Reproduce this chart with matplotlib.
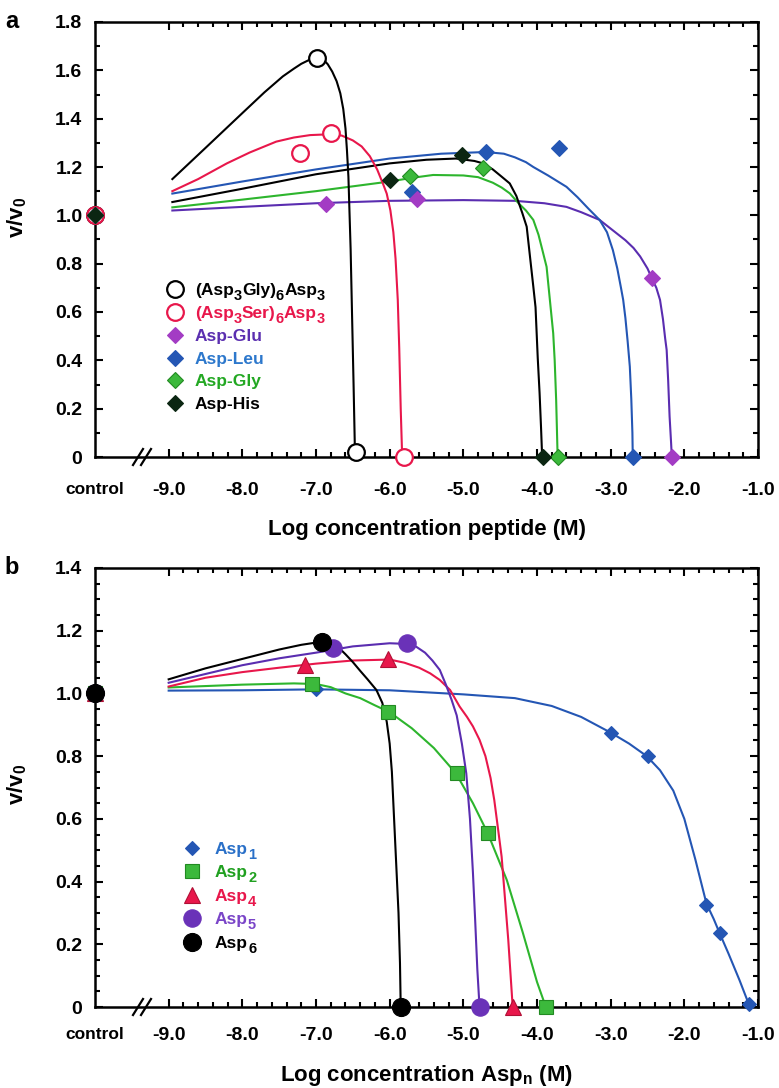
import numpy as np
import matplotlib
matplotlib.use('Agg')
import matplotlib.pyplot as plt
from matplotlib.ticker import FixedLocator

plt.rcParams['font.family'] = ['Liberation Sans', 'DejaVu Sans']
plt.rcParams['font.weight'] = 'bold'
plt.rcParams['mathtext.fontset'] = 'custom'
plt.rcParams['mathtext.rm'] = 'Liberation Sans:bold'
plt.rcParams['mathtext.bf'] = 'Liberation Sans:bold'
plt.rcParams['mathtext.it'] = 'Liberation Sans:bold'
plt.rcParams['mathtext.default'] = 'bf'

# ---------------- common axis data ----------------
control_x = -10.0
control_y = 1.0
x_major = [-9.0, -8.0, -7.0, -6.0, -5.0, -4.0, -3.0, -2.0, -1.0]
x_major_labels = ['-9.0', '-8.0', '-7.0', '-6.0', '-5.0', '-4.0', '-3.0', '-2.0', '-1.0']
control_label = 'control'

# ---------------- panel a data ----------------
ya_ticks = [0, 0.2, 0.4, 0.6, 0.8, 1.0, 1.2, 1.4, 1.6, 1.8]
ya_labels = ['0', '0.2', '0.4', '0.6', '0.8', '1.0', '1.2', '1.4', '1.6', '1.8']

gly36_x = [-6.99, -6.46]
gly36_y = [1.65, 0.02]
gly36_fit_x = [-8.95, -8.5, -8.0, -7.7, -7.45, -7.3, -7.2, -7.1, -7.03, -6.96, -6.9, -6.84, -6.78,
               -6.72, -6.67, -6.63, -6.6, -6.58, -6.56, -6.55, -6.53, -6.51, -6.49, -6.47]
gly36_fit_y = [1.15, 1.279, 1.423, 1.509, 1.575, 1.607, 1.627, 1.642, 1.65, 1.654, 1.645, 1.625, 1.595,
               1.555, 1.505, 1.44, 1.36, 1.27, 1.16, 1.06, 0.86, 0.58, 0.30, 0.0]

ser36_x = [-7.22, -6.79, -5.80]
ser36_y = [1.26, 1.34, 0.0]
ser36_fit_x = [-8.95, -8.6, -8.21, -7.9, -7.54, -7.3, -7.08, -6.85, -6.65, -6.5, -6.38, -6.27, -6.17,
               -6.09, -6.04, -5.99, -5.95, -5.92, -5.89, -5.87, -5.85, -5.83]
ser36_fit_y = [1.10, 1.15, 1.215, 1.26, 1.305, 1.322, 1.332, 1.335, 1.33, 1.31, 1.285, 1.245, 1.19,
               1.13, 1.09, 1.02, 0.93, 0.82, 0.65, 0.45, 0.20, 0.0]

glu_x = [-6.86, -5.63, -2.44, -2.17]
glu_y = [1.045, 1.066, 0.739, 0.0]
glu_fit_x = [-8.95, -8.0, -7.0, -6.0, -5.0, -4.3, -3.9, -3.6, -3.4, -3.15, -2.95, -2.8, -2.69, -2.6,
             -2.5, -2.44, -2.38, -2.33, -2.29, -2.26, -2.24, -2.22, -2.20, -2.18, -2.17]
glu_fit_y = [1.02, 1.035, 1.05, 1.06, 1.063, 1.06, 1.05, 1.035, 1.013, 0.981, 0.933, 0.897, 0.865, 0.83,
             0.78, 0.739, 0.70, 0.65, 0.57, 0.49, 0.443, 0.32, 0.167, 0.06, 0.0]

leu_x = [-5.70, -4.69, -3.70, -2.70]
leu_y = [1.098, 1.263, 1.28, 0.0]
leu_fit_x = [-8.95, -8.0, -7.0, -6.0, -5.3, -4.7, -4.45, -4.3, -4.15, -4.05, -3.85, -3.6, -3.45, -3.3,
             -3.15, -3.05, -2.97, -2.91, -2.86, -2.83, -2.80, -2.77, -2.74, -2.72, -2.705, -2.70]
leu_fit_y = [1.09, 1.14, 1.19, 1.235, 1.255, 1.262, 1.255, 1.24, 1.22, 1.20, 1.165, 1.118, 1.075, 1.027,
             0.981, 0.93, 0.856, 0.78, 0.70, 0.65, 0.575, 0.48, 0.374, 0.24, 0.10, 0.0]

gly_x = [-5.73, -4.73, -3.71]
gly_y = [1.163, 1.194, 0.0]
gly_fit_x = [-8.95, -8.0, -7.0, -6.0, -5.7, -5.41, -5.0, -4.8, -4.6, -4.48, -4.37, -4.25, -4.15, -4.05,
             -3.98, -3.93, -3.87, -3.82, -3.78, -3.76, -3.74, -3.73, -3.72]
gly_fit_y = [1.033, 1.065, 1.10, 1.14, 1.155, 1.167, 1.165, 1.158, 1.135, 1.115, 1.091, 1.05, 1.02, 0.981,
             0.92, 0.86, 0.787, 0.634, 0.512, 0.40, 0.236, 0.12, 0.0]

his_x = [-6.00, -5.02, -3.92]
his_y = [1.146, 1.249, 0.0]
his_fit_x = [-8.95, -8.0, -7.0, -6.0, -5.5, -5.1, -4.85, -4.73, -4.6, -4.48, -4.37, -4.28, -4.2, -4.14,
             -4.09, -4.05, -4.02, -3.99, -3.965, -3.945, -3.93]
his_fit_y = [1.055, 1.11, 1.17, 1.215, 1.23, 1.235, 1.225, 1.215, 1.19, 1.16, 1.132, 1.08, 1.01, 0.953,
             0.815, 0.705, 0.62, 0.41, 0.265, 0.12, 0.0]

# ---------------- panel b data ----------------
yb_ticks = [0, 0.2, 0.4, 0.6, 0.8, 1.0, 1.2, 1.4]
yb_labels = ['0', '0.2', '0.4', '0.6', '0.8', '1.0', '1.2', '1.4']

asp1_x = [-7.0, -3.0, -2.5, -1.7, -1.52, -1.12]
asp1_y = [1.013, 0.875, 0.80, 0.325, 0.235, 0.01]
asp1_fit_x = [-9.0, -8.0, -7.0, -6.0, -5.0, -4.3, -3.8, -3.4, -3.0, -2.75, -2.51, -2.33, -2.15, -2.0,
              -1.85, -1.7, -1.6, -1.52, -1.4, -1.25, -1.11]
asp1_fit_y = [1.009, 1.01, 1.013, 1.01, 0.997, 0.985, 0.96, 0.925, 0.875, 0.84, 0.80, 0.755, 0.69, 0.60,
              0.47, 0.33, 0.28, 0.235, 0.17, 0.085, 0.0]

asp2_x = [-7.06, -6.02, -5.09, -4.67, -3.88]
asp2_y = [1.03, 0.94, 0.745, 0.554, 0.0]
asp2_fit_x = [-9.0, -8.0, -7.3, -7.0, -6.8, -6.6, -6.4, -6.2, -6.0, -5.7, -5.4, -5.1, -4.87, -4.67,
              -4.41, -4.19, -4.0, -3.88]
asp2_fit_y = [1.019, 1.028, 1.032, 1.03, 1.02, 1.0, 0.985, 0.962, 0.94, 0.889, 0.826, 0.745, 0.65, 0.555,
              0.405, 0.235, 0.08, 0.0]

asp4_x = [-7.15, -6.02, -4.33]
asp4_y = [1.09, 1.11, 0.0]
asp4_fit_x = [-9.0, -8.5, -8.0, -7.5, -7.0, -6.5, -6.0, -5.8, -5.6, -5.45, -5.32, -5.18, -5.05, -4.95,
              -4.87, -4.78, -4.7, -4.63, -4.58, -4.53, -4.48, -4.43, -4.39, -4.36, -4.33]
asp4_fit_y = [1.022, 1.05, 1.068, 1.082, 1.095, 1.105, 1.108, 1.098, 1.082, 1.064, 1.043, 1.011, 0.958,
              0.925, 0.895, 0.852, 0.80, 0.73, 0.66, 0.57, 0.479, 0.332, 0.214, 0.107, 0.0]

asp5_x = [-6.77, -5.77, -4.77]
asp5_y = [1.144, 1.16, 0.0]
asp5_fit_x = [-9.0, -8.5, -8.0, -7.5, -7.0, -6.5, -6.0, -5.77, -5.64, -5.52, -5.42, -5.32, -5.24, -5.16,
              -5.09, -5.02, -4.96, -4.91, -4.87, -4.84, -4.81, -4.78]
asp5_fit_y = [1.034, 1.062, 1.09, 1.112, 1.13, 1.15, 1.16, 1.158, 1.149, 1.13, 1.105, 1.075, 1.03, 0.98,
              0.93, 0.84, 0.745, 0.60, 0.43, 0.28, 0.12, 0.0]

asp6_x = [-6.92, -5.85]
asp6_y = [1.165, 0.0]
asp6_fit_x = [-9.0, -8.5, -8.0, -7.5, -7.2, -6.92, -6.8, -6.7, -6.6, -6.5, -6.4, -6.3, -6.18, -6.1,
              -6.04, -6.0, -5.97, -5.95, -5.92, -5.9, -5.88, -5.86, -5.85]
asp6_fit_y = [1.045, 1.08, 1.11, 1.14, 1.155, 1.165, 1.16, 1.148, 1.125, 1.1, 1.072, 1.045, 1.011, 0.97,
              0.91, 0.84, 0.75, 0.65, 0.50, 0.40, 0.30, 0.14, 0.0]

# ---------------- colours ----------------
RED = '#e8174b'
BLACK = '#000000'
PURPLE_LINE = '#5a2db0'
GLU_MK = '#a33cc4'
BLUE = '#2456b4'
GREEN = '#2db52d'
GREEN_MK = '#3cb93c'
GREEN_EDGE = '#228a22'
HIS_MK = '#0b2612'
ASP5_MK = '#6a32b8'

fig = plt.figure(figsize=(7.79, 10.88), dpi=100)
FW, FH = 779, 1088
AX_L, AX_R = 95, 758
axA = fig.add_axes([AX_L / FW, 1 - 457 / FH, (AX_R - AX_L) / FW, 435 / FH])
axB = fig.add_axes([AX_L / FW, 1 - 1007 / FH, (AX_R - AX_L) / FW, 439 / FH])
renderer = fig.canvas.get_renderer()


def style_axes(ax, yticks, ylabels, yminor_step, h_px, xpad):
    ax.set_xlim(-10, -1)
    ax.set_ylim(0, yticks[-1])
    for s in ax.spines.values():
        s.set_linewidth(1.8)
    ax.set_xticks([control_x] + x_major)
    ax.set_xticklabels([control_label] + x_major_labels)
    xminor = [v for v in np.arange(-9.0, -0.99, 0.2) if abs(v - round(v)) > 1e-6]
    ax.xaxis.set_minor_locator(FixedLocator(xminor))
    ax.set_yticks(yticks)
    ax.set_yticklabels(ylabels)
    yminor = np.arange(0, yticks[-1] + 1e-9, yminor_step)
    ax.yaxis.set_minor_locator(FixedLocator(yminor))
    ax.tick_params(which='both', direction='in', top=True, right=True, width=1.5, color='black')
    ax.tick_params(which='major', length=6)
    ax.tick_params(which='minor', length=3.5)
    ax.tick_params(axis='x', labelsize=14, pad=xpad)
    ax.tick_params(axis='y', labelsize=14, pad=9)
    t0 = ax.xaxis.get_major_ticks()[0]
    t0.tick1line.set_visible(False)
    t0.tick2line.set_visible(False)
    t0.label1.set_fontsize(12.5)
    # axis break marks
    w = AX_R - AX_L
    for cx in (138, 146):
        ax.plot([(cx - 5 - AX_L) / w, (cx + 5 - AX_L) / w], [-8 / h_px, 8 / h_px],
                transform=ax.transAxes, color='black', lw=1.6, clip_on=False, zorder=6)


def rich_label(x_px, base_py, parts, color, size=12.5, sub_size=10.5, sub_drop=4.5):
    x = x_px
    for s, sub in parts:
        t = fig.text(x / FW, 1 - (base_py + (sub_drop if sub else 0)) / FH, s,
                     fontsize=sub_size if sub else size, color=color, fontweight='bold',
                     ha='left', va='baseline')
        x += t.get_window_extent(renderer=renderer).width


def legend(ax, entries, mx, tx, rows_py, ax_bottom_py, h_px):
    w = AX_R - AX_L
    for (parts, tcolor, mk, ms, mfc, mec, mew), py in zip(entries, rows_py):
        ax.plot([(mx - AX_L) / w], [(ax_bottom_py - py) / h_px], marker=mk, ms=ms, mfc=mfc, mec=mec,
                mew=mew, ls='none', transform=ax.transAxes, clip_on=False, zorder=7)
        rich_label(tx, py + 6.3, parts, tcolor)


# ---------------- panel a ----------------
style_axes(axA, ya_ticks, ya_labels, 0.1, 435, 18.3)
for fx, fy, c in [(glu_fit_x, glu_fit_y, PURPLE_LINE), (gly_fit_x, gly_fit_y, GREEN),
                  (his_fit_x, his_fit_y, BLACK), (leu_fit_x, leu_fit_y, BLUE),
                  (ser36_fit_x, ser36_fit_y, RED), (gly36_fit_x, gly36_fit_y, BLACK)]:
    axA.plot(fx, fy, color=c, lw=1.5, zorder=3, solid_joinstyle='round')

axA.plot([control_x] + gly36_x, [control_y] + gly36_y, 'o', ms=12, mfc='white', mec=BLACK,
         mew=1.6, clip_on=False, zorder=5)
axA.plot([control_x] + ser36_x, [control_y] + ser36_y, 'o', ms=12, mfc='white', mec=RED,
         mew=1.6, clip_on=False, zorder=5)
axA.plot([control_x] + leu_x, [control_y] + leu_y, 'D', ms=8, mfc=BLUE, mec=BLUE,
         mew=0.8, clip_on=False, zorder=5)
axA.plot([control_x] + glu_x, [control_y] + glu_y, 'D', ms=8, mfc=GLU_MK, mec=GLU_MK,
         mew=0.8, clip_on=False, zorder=5)
axA.plot([control_x] + gly_x, [control_y] + gly_y, 'D', ms=8, mfc=GREEN_MK, mec=GREEN_EDGE,
         mew=0.8, clip_on=False, zorder=5)
axA.plot([control_x] + his_x, [control_y] + his_y, 'D', ms=8, mfc=HIS_MK, mec=HIS_MK,
         mew=0.8, clip_on=False, zorder=6)

legA = [
    ([('(Asp', 0), ('3', 1), ('Gly)', 0), ('6', 1), ('Asp', 0), ('3', 1)], BLACK, 'o', 12, 'white', BLACK, 1.6),
    ([('(Asp', 0), ('3', 1), ('Ser)', 0), ('6', 1), ('Asp', 0), ('3', 1)], RED, 'o', 12, 'white', RED, 1.6),
    ([('Asp-Glu', 0)], '#5b2fb0', 'D', 8, GLU_MK, GLU_MK, 0.8),
    ([('Asp-Leu', 0)], '#2d78cc', 'D', 8, BLUE, BLUE, 0.8),
    ([('Asp-Gly', 0)], '#23a823', 'D', 8, GREEN_MK, GREEN_EDGE, 0.8),
    ([('Asp-His', 0)], BLACK, 'D', 8, HIS_MK, HIS_MK, 0.8),
]
legend(axA, legA, 175, 195, [289, 312, 335, 358, 380, 403], 457, 435)

axA.set_xlabel('Log concentration peptide (M)', fontsize=16, fontweight='bold')
axA.xaxis.set_label_coords(0.5, -0.142)
axA.set_ylabel(r'v/v$_0$', fontsize=16, fontweight='bold')
axA.yaxis.set_label_coords(-0.10, 0.55)
fig.text(12 / FW, 1 - 28 / FH, 'a', fontsize=17, fontweight='bold', ha='center', va='baseline')

# ---------------- panel b ----------------
style_axes(axB, yb_ticks, yb_labels, 0.05, 439, 14.3)
for fx, fy, c in [(asp1_fit_x, asp1_fit_y, BLUE), (asp2_fit_x, asp2_fit_y, GREEN),
                  (asp4_fit_x, asp4_fit_y, RED), (asp5_fit_x, asp5_fit_y, PURPLE_LINE),
                  (asp6_fit_x, asp6_fit_y, BLACK)]:
    axB.plot(fx, fy, color=c, lw=1.5, zorder=3, solid_joinstyle='round')

axB.plot([control_x] + asp1_x, [control_y] + asp1_y, 'D', ms=7.5, mfc=BLUE, mec=BLUE,
         mew=0.8, clip_on=False, zorder=5)
axB.plot([control_x] + asp2_x, [control_y] + asp2_y, 's', ms=10.5, mfc=GREEN_MK, mec=GREEN_EDGE,
         mew=0.8, clip_on=False, zorder=5)
axB.plot([control_x] + asp4_x, [control_y] + asp4_y, '^', ms=11, mfc=RED, mec='#b01035',
         mew=0.8, clip_on=False, zorder=5)
axB.plot([control_x] + asp5_x, [control_y] + asp5_y, 'o', ms=12.5, mfc=ASP5_MK, mec=ASP5_MK,
         mew=0.8, clip_on=False, zorder=5)
axB.plot([control_x] + asp6_x, [control_y] + asp6_y, 'o', ms=13, mfc=BLACK, mec=BLACK,
         mew=0.8, clip_on=False, zorder=6)

legB = [
    ([('Asp', 0), ('1', 1)], '#2a70c8', 'D', 7.5, BLUE, BLUE, 0.8),
    ([('Asp', 0), ('2', 1)], '#20a020', 's', 10.5, GREEN_MK, GREEN_EDGE, 0.8),
    ([('Asp', 0), ('4', 1)], RED, '^', 11, RED, '#b01035', 0.8),
    ([('Asp', 0), ('5', 1)], '#7a45c8', 'o', 12.5, ASP5_MK, ASP5_MK, 0.8),
    ([('Asp', 0), ('6', 1)], BLACK, 'o', 13, BLACK, BLACK, 0.8),
]
legend(axB, legB, 192, 215, [848, 871, 895, 918, 942], 1007, 439)

axB.set_xlabel(r'Log concentration Asp$_n$ (M)', fontsize=16, fontweight='bold')
axB.xaxis.set_label_coords(0.5, -0.128)
axB.set_ylabel(r'v/v$_0$', fontsize=16, fontweight='bold')
axB.yaxis.set_label_coords(-0.10, 0.506)
fig.text(12 / FW, 1 - 574 / FH, 'b', fontsize=17, fontweight='bold', ha='center', va='baseline')

fig.savefig('out.png', dpi=100)
